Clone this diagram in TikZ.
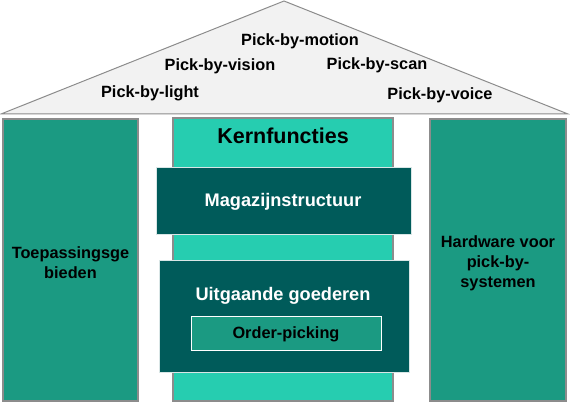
\documentclass[tikz,border=0pt]{standalone}
\usepackage{fontspec}
\setmainfont{Liberation Sans}
\definecolor{roofgray}{HTML}{F2F2F2}
\definecolor{edgegray}{HTML}{8C8C8C}
\definecolor{lightteal}{HTML}{26CDB0}
\definecolor{darkteal}{HTML}{005B5A}
\definecolor{midteal}{HTML}{1B9A82}
\tikzset{
  roofline/.style={draw=edgegray, line width=1pt, fill=roofgray},
  pillar/.style={draw=edgegray, line width=1.2pt, fill=midteal},
  corecol/.style={draw=edgegray, line width=1.2pt, fill=lightteal},
  darkbox/.style={draw=white!85!darkteal, line width=0.8pt, fill=darkteal},
  innerbox/.style={draw=white, line width=1pt, fill=midteal},
  rooftext/.style={font=\bfseries\fontsize{16.3}{19}\selectfont, text=black},
  pillartext/.style={font=\bfseries\fontsize{16.3}{20}\selectfont, text=black, align=center},
  whitetext/.style={font=\bfseries\fontsize{18.2}{22}\selectfont, text=white},
}
\begin{document}
\begin{tikzpicture}[x=1pt,y=-1pt]
\useasboundingbox (0,0) rectangle (570,403);
% roof
\coordinate (rl) at (1,114);
\coordinate (ra) at (284,1);
\coordinate (rr) at (568,114);
\draw[roofline] (rl) -- (ra) -- (rr) -- cycle;
\node[rooftext] (motion) at (300,41) {Pick-by-motion};
\node[rooftext] (vision) at (220,66) {Pick-by-vision};
\node[rooftext] (scan) at (377,65) {Pick-by-scan};
\node[rooftext] (light) at (150,93) {Pick-by-light};
\node[rooftext] (voice) at (440,95) {Pick-by-voice};
% pillars
\draw[pillar] (3,119) rectangle (138,401);
\node[pillartext] (left) at (70.5,263) {Toepassingsge\\bieden};
\draw[pillar] (430,119) rectangle (566,401);
\node[pillartext] (right) at (498,263) {Hardware voor\\pick-by-\\systemen};
% core column
\draw[corecol] (173,118) rectangle (393,401);
\node[font=\bfseries\fontsize{21.5}{25}\selectfont] (kern) at (283,136) {Kernfuncties};
\draw[darkbox] (156,167) rectangle (411,234);
\node[whitetext] (magazijn) at (283,202) {Magazijnstructuur};
\draw[darkbox] (159,260) rectangle (409,372);
\node[whitetext] (uitgaande) at (283,296) {Uitgaande goederen};
\draw[innerbox] (191,316) rectangle (381,350);
\node[font=\bfseries\fontsize{16.3}{19}\selectfont] (order) at (286,334) {Order-picking};
\end{tikzpicture}
\end{document}
